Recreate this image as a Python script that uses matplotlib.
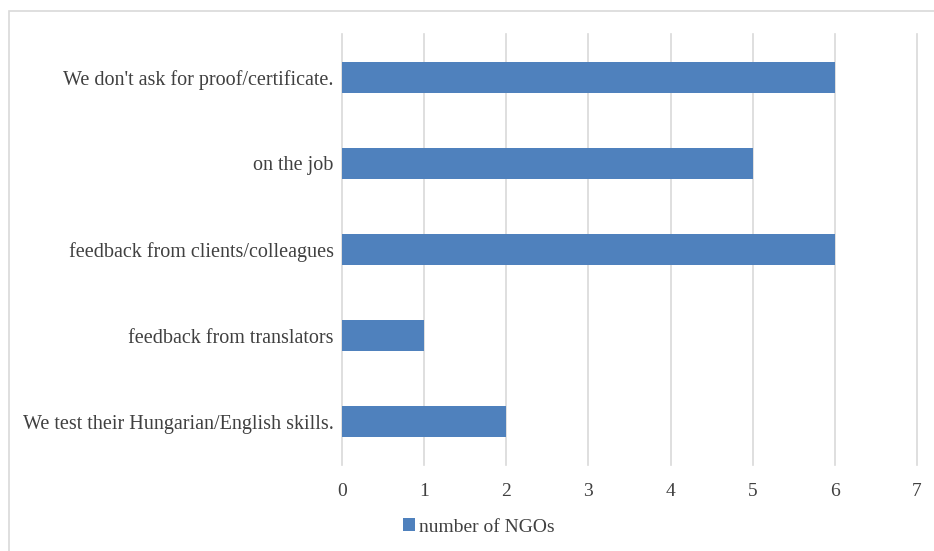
import matplotlib.pyplot as plt
from matplotlib.patches import Rectangle

# categories listed bottom to top, as barh draws them
categories = ["We test their Hungarian/English skills.",
              "feedback from translators",
              "feedback from clients/colleagues",
              "on the job",
              "We don't ask for proof/certificate."]
counts = [2, 1, 6, 5, 6]
x_ticks = [0, 1, 2, 3, 4, 5, 6, 7]

plt.rcParams['font.family'] = ['Liberation Serif', 'DejaVu Serif']

fig = plt.figure(figsize=(9.34, 5.51), dpi=100)
ax = fig.add_axes([342 / 934, 1 - 465 / 551, 575 / 934, 431 / 551])

# outer chart frame (light grey)
fig.patches.append(Rectangle((8.5 / 934, -0.1), 1.2, 1 - 10.5 / 551 + 0.1,
                             transform=fig.transFigure, fill=False,
                             edgecolor='#d9d9d9', linewidth=1.2))

bars = ax.barh(range(len(categories)), counts, height=0.36,
               color='#4f81bd', label='number of NGOs', zorder=3)

ax.set_xlim(0, 7)
ax.set_ylim(-0.5, len(categories) - 0.5)
ax.set_xticks(x_ticks)
ax.set_yticks(range(len(categories)))
ax.set_yticklabels(categories)
ax.grid(axis='x', color='#d9d9d9', linewidth=1.2, zorder=0)
for gl in ax.get_xgridlines():
    gl.set_clip_on(False)
for s in ax.spines.values():
    s.set_visible(False)
ax.tick_params(axis='both', length=0, labelsize=14, colors='#404040')
ax.tick_params(axis='y', labelsize=14.5, pad=6)
ax.tick_params(axis='x', pad=13)

leg = fig.legend(handles=[bars], labels=['number of NGOs'], loc='center',
                 bbox_to_anchor=(479 / 934, 1 - 527 / 551), frameon=False,
                 fontsize=14, handlelength=0.6, handleheight=0.6,
                 handletextpad=0.25)
for t in leg.get_texts():
    t.set_color('#404040')

fig.savefig('out.png', dpi=100)
